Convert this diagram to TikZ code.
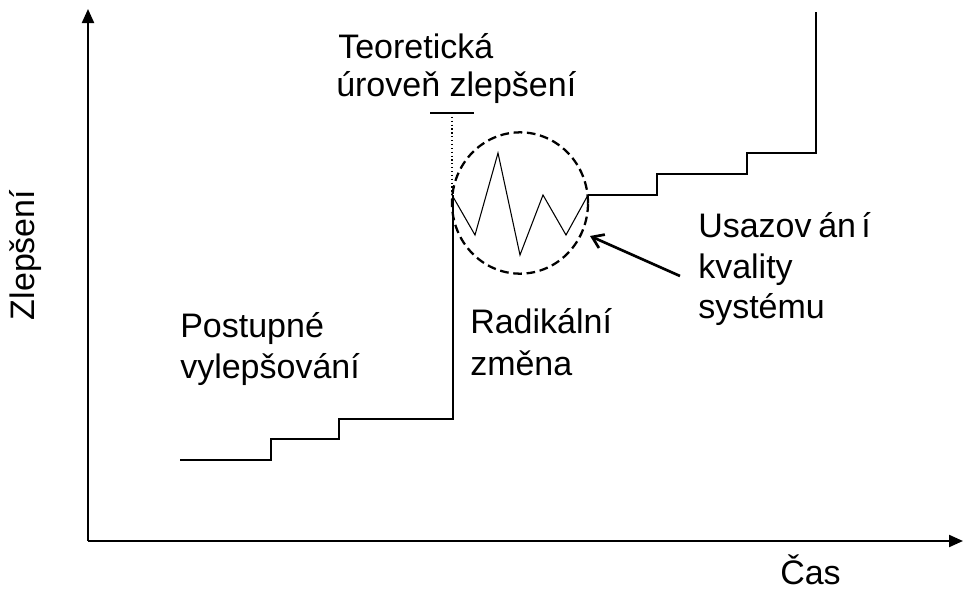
\documentclass[tikz,border=0pt]{standalone}
\usepackage{fontspec}
\setmainfont{Liberation Sans}
\usetikzlibrary{arrows.meta,shapes.geometric}
\tikzset{
  axis/.style={line width=1.6pt,-{Triangle[length=10.5pt,width=9pt]}},
  stairs/.style={line width=0.8pt},
  label/.style={inner sep=0pt,anchor=base west,font=\fontsize{25.5}{30}\selectfont},
  zone/.style={draw,ellipse,line width=1.7pt,dash pattern=on 6.5pt off 3.5pt,minimum width=102pt,minimum height=106pt,inner sep=0pt},
  pointer/.style={line width=2pt,-{Straight Barb[length=8pt,width=11pt]}}
}
\begin{document}
\begin{tikzpicture}[x=0.75pt,y=-0.75pt]
\useasboundingbox (0,0) rectangle (965,590);

% axes
\coordinate (origin) at (88,541);
\coordinate (ytop) at (88,9);
\coordinate (xend) at (963,541);
\draw[axis] (origin) -- (ytop);
\draw[axis] (origin) -- (xend);

% area of the radical change
\node[zone] (zone) at (520,203) {};

% gradual steps, then the jump
\draw[stairs] (180,460) -- (271,460) -- (271,439) -- (339,439) -- (339,419)
  -- (453,419) -- (453,195);

% theoretical level marker
\draw[stairs] (430,113) -- (474,113);
\draw[line width=0.9pt,dotted] (452,113) -- (452,195);

% oscillation inside the change
\draw[stairs] (452,195) -- (475,235) -- (498,153) -- (520,255) -- (543,195)
  -- (566,235) -- (588,195);

% settling steps
\draw[stairs] (588,195) -- (657,195) -- (657,174) -- (747,174) -- (747,153)
  -- (816,153) -- (816,12);

% labels
\node[label] (teo1) at (338,58) {Teoretická};
\node[label] (teo2) at (336,96) {úroveň zlepšení};
\node[label] (post1) at (180,337) {Postupné};
\node[label] (post2) at (180,378) {vylepšování};
\node[label] (rad1) at (470,333) {Radikální};
\node[label] (rad2) at (470,375) {změna};
\node[label] (usa1) at (698,237) {Usazov\hspace{5pt}án\hspace{4pt}í};
\node[label] (usa2) at (698,278) {kvality};
\node[label] (usa3) at (698,318) {systému};
\node[label] (cas) at (780,584) {Čas};
\node[label,anchor=base,rotate=90] (zlep) at (35,255) {Zlepšení};

% pointer to the circled area
\coordinate (ptail) at (680,276);
\coordinate (phead) at (590,236);
\draw[pointer] (ptail) -- (phead);
\end{tikzpicture}
\end{document}
